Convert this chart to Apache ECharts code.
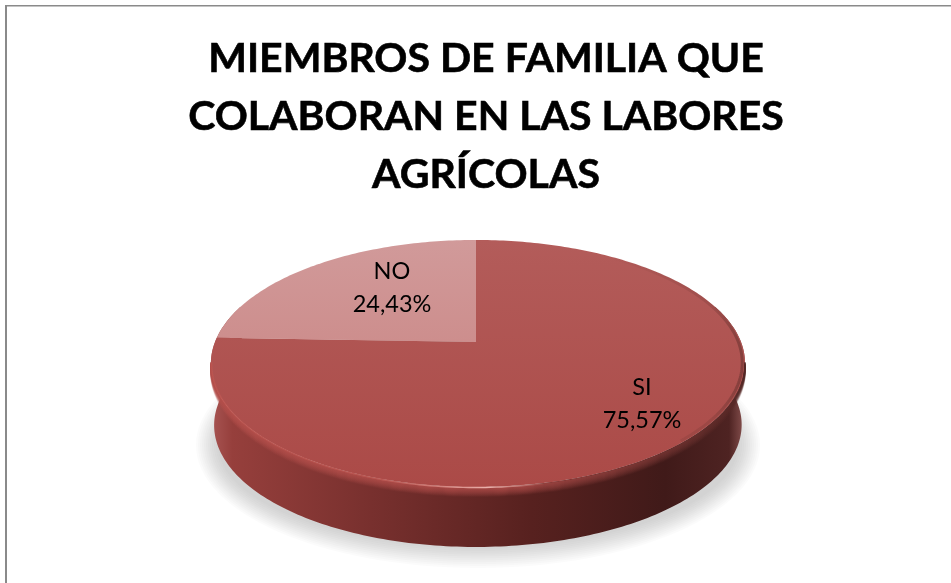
<!DOCTYPE html>
<html>
<head>
<meta charset="utf-8">
<style>html,body{margin:0;padding:0;background:#fff}#chart{width:951px;height:583px}</style>
<script src="https://cdn.jsdelivr.net/npm/echarts@6/dist/echarts.min.js"></script>
</head>
<body>
<div id="chart"></div>
<script>
// Family members who help with farm work
const chartTitle = 'MIEMBROS DE FAMILIA QUE\nCOLABORAN EN LAS LABORES\nAGRÍCOLAS';
const categories = ['NO', 'SI'];
const shares = [24.43, 75.57];

// Tilted-disc projection: a unit circle on the table seen in perspective
const disc = { x0: 476, y0: 342, sx: 263, sy: 119.8, p: 0.174, bow: 2, depth: 62 };
const sliceColors = [
  ['#d19a9a', '#cd8e8d'],
  ['#b35c5a', '#ab4a47']
];
const labelCentres = [[392, 288], [642, 404]];

function project(turn, k, dy) {
  const a = turn * 2 * Math.PI;
  const u = -Math.sin(a) * k, v = Math.cos(a) * k;
  const w = 1 + disc.p * v;
  return [disc.x0 + disc.sx * u / w + disc.bow * u * u, disc.y0 - disc.sy * v / w + (dy || 0)];
}
function arcPoints(from, to, k, dy) {
  const n = Math.max(2, Math.ceil(Math.abs(to - from) * 360));
  const pts = [];
  for (let i = 0; i <= n; i++) pts.push(project(from + (to - from) * i / n, k, dy));
  return pts;
}
function wedge(from, to, k) {
  return arcPoints(from, to, k).concat([[disc.x0, disc.y0]]);
}
const total = shares.reduce((s, v) => s + v, 0);
const horizontal = stops => new echarts.graphic.LinearGradient(0, 0, 1, 0,
  stops.map(([offset, color]) => ({ offset, color })));

// Soft contact shadow built from nested translucent ellipses
function groundShadow() {
  const layers = [];
  for (let s = 11; s >= 0; s--) {
    layers.push({
      type: 'ellipse', silent: true,
      shape: { cx: 478, cy: 445, rx: 260 + s * 2, ry: 102 + s * 1.9 },
      style: { fill: 'rgba(120,120,120,0.032)', lineWidth: 0 }
    });
  }
  return layers;
}

function sideWall() {
  const top = arcPoints(0.2, 0.8, 1);
  const low = arcPoints(0.8, 0.2, 0.988, disc.depth);
  return {
    type: 'polygon', silent: true,
    shape: { points: top.concat(low) },
    style: {
      lineWidth: 0,
      fill: horizontal([
        [0, '#a85553'], [0.04, '#963f3c'], [0.3, '#78302e'],
        [0.6, '#57211f'], [0.85, '#401a19'], [0.97, '#4e2322'], [1, '#8a5351']
      ])
    }
  };
}

// Rounded shoulder between the flat face and the wall, stacked from thin arcs
function shoulder() {
  const rings = [];
  const steps = 9;
  for (let s = steps; s >= 1; s--) {
    const alpha = (1 - s / (steps + 1)).toFixed(2);
    rings.push({
      type: 'polyline', silent: true,
      shape: { points: arcPoints(0.275, 0.725, 1, s) },
      style: {
        fill: 'none', lineWidth: 1.6,
        stroke: horizontal([
          [0, `rgba(178,78,74,${alpha})`],
          [0.55, `rgba(168,72,69,${alpha})`],
          [1, `rgba(82,38,36,${alpha})`]
        ])
      }
    });
  }
  return rings;
}

function rimLight() {
  return {
    type: 'polyline', silent: true,
    shape: { points: arcPoints(0.275, 0.535, 0.997, 1) },
    style: {
      fill: 'none', lineWidth: 1.4,
      stroke: horizontal([
        [0, 'rgba(200,90,84,0.45)'],
        [0.5, 'rgba(208,102,96,0.5)'],
        [0.82, 'rgba(245,190,184,0.9)'],
        [1, 'rgba(245,190,184,0)']
      ])
    }
  };
}

// Darker turn of the face towards the unlit right edge
function rimShade() {
  return {
    type: 'polyline', silent: true,
    shape: { points: arcPoints(0.62, 0.9, 0.99) },
    style: {
      fill: 'none', lineWidth: 3,
      stroke: horizontal([
        [0, 'rgba(95,45,42,0)'],
        [0.75, 'rgba(95,45,42,0.22)'],
        [1, 'rgba(95,45,42,0.55)']
      ])
    }
  };
}

function renderSlice(params, api) {
  const i = params.dataIndex;
  const before = shares.slice(0, i).reduce((s, v) => s + v, 0) / total;
  const share = api.value(1) / total;
  const from = before, to = before + share;
  const label = api.value(1).toFixed(2).replace('.', ',') + '%';
  const children = [];
  if (i === 0) {
    children.push(...groundShadow(), sideWall());
  }
  children.push({
    type: 'polygon',
    shape: { points: wedge(from, to, 1) },
    style: {
      lineWidth: 0,
      fill: new echarts.graphic.LinearGradient(0, 0, 0, 1, [
        { offset: 0, color: sliceColors[i][0] },
        { offset: 1, color: sliceColors[i][1] }
      ])
    }
  });
  if (i === 1) {
    children.push(...shoulder(), rimLight(), rimShade());
  }
  children.push({
    type: 'text', silent: true,
    style: {
      text: categories[i] + '\n' + label,
      x: labelCentres[i][0], y: labelCentres[i][1],
      align: 'center', verticalAlign: 'middle',
      font: '23.5px Lato', lineHeight: 33, fill: '#000'
    },
    z2: 5
  });
  return { type: 'group', children };
}

const chart = echarts.init(document.getElementById('chart'), null, { renderer: 'canvas' });
chart.setOption({
  animation: false,
  backgroundColor: '#fff',
  title: {
    text: chartTitle, left: 481, top: 25,
    textAlign: 'center',
    textStyle: {
      fontFamily: 'Lato', fontWeight: 'bold', fontSize: 41, lineHeight: 58, color: '#000',
      textBorderColor: '#000', textBorderWidth: 0.6
    }
  },
  graphic: [
    { type: 'line', shape: { x1: 6, y1: 5, x2: 6, y2: 583 }, style: { stroke: '#8a8a8a', lineWidth: 2 } },
    { type: 'line', shape: { x1: 5, y1: 5.75, x2: 951, y2: 5.75 }, style: { stroke: '#8a8a8a', lineWidth: 1.5 } }
  ],
  series: [{
    type: 'custom',
    coordinateSystem: 'none',
    renderItem: renderSlice,
    data: categories.map((c, i) => [i, shares[i]])
  }]
});
</script>
</body>
</html>
